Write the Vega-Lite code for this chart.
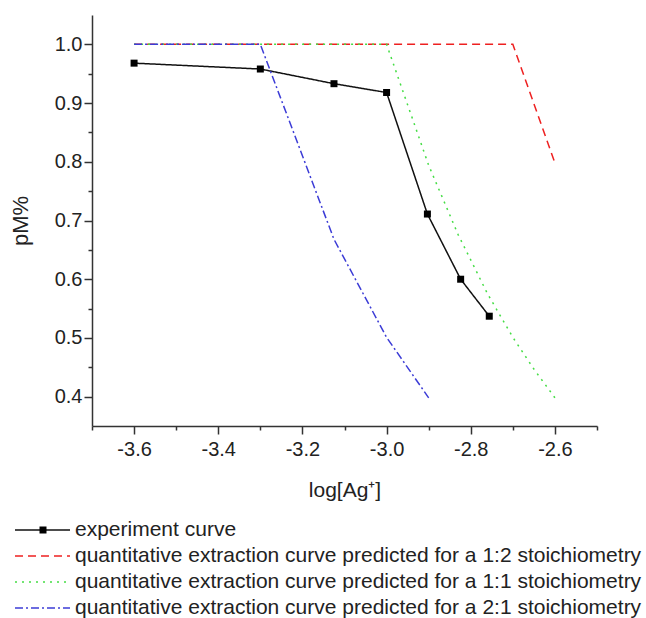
{
  "$schema": "https://vega.github.io/schema/vega-lite/v6.json",
  "autosize": "none",
  "width": 505,
  "height": 411,
  "padding": {"left": 92, "top": 15, "right": 49, "bottom": 192},
  "background": "white",
  "config": {
    "view": {"stroke": null},
    "font": "Liberation Sans",
    "axis": {"grid": false, "domainColor": "#333", "domainWidth": 1.5, "tickColor": "#333", "tickWidth": 1.5, "labelFont": "Liberation Sans", "labelFontSize": 20, "labelColor": "#222", "labelOverlap": false, "labelFlush": false, "titleFont": "Liberation Sans", "titleFontSize": 21, "titleFontWeight": "normal", "titleColor": "#222"}
  },
  "data": {"values": [
    {"series": "experiment curve", "x": -3.6, "y": 0.968},
    {"series": "experiment curve", "x": -3.3, "y": 0.958},
    {"series": "experiment curve", "x": -3.125, "y": 0.933},
    {"series": "experiment curve", "x": -3.0, "y": 0.918},
    {"series": "experiment curve", "x": -2.903, "y": 0.711},
    {"series": "experiment curve", "x": -2.824, "y": 0.600},
    {"series": "experiment curve", "x": -2.756, "y": 0.537},
    {"series": "quantitative extraction curve predicted for a 1:2 stoichiometry", "x": -3.6, "y": 1.0},
    {"series": "quantitative extraction curve predicted for a 1:2 stoichiometry", "x": -2.7, "y": 1.0},
    {"series": "quantitative extraction curve predicted for a 1:2 stoichiometry", "x": -2.6, "y": 0.798},
    {"series": "quantitative extraction curve predicted for a 1:1 stoichiometry", "x": -3.6, "y": 1.0},
    {"series": "quantitative extraction curve predicted for a 1:1 stoichiometry", "x": -3.0, "y": 1.0},
    {"series": "quantitative extraction curve predicted for a 1:1 stoichiometry", "x": -2.9, "y": 0.794},
    {"series": "quantitative extraction curve predicted for a 1:1 stoichiometry", "x": -2.83, "y": 0.676},
    {"series": "quantitative extraction curve predicted for a 1:1 stoichiometry", "x": -2.76, "y": 0.575},
    {"series": "quantitative extraction curve predicted for a 1:1 stoichiometry", "x": -2.7, "y": 0.501},
    {"series": "quantitative extraction curve predicted for a 1:1 stoichiometry", "x": -2.65, "y": 0.447},
    {"series": "quantitative extraction curve predicted for a 1:1 stoichiometry", "x": -2.6, "y": 0.398},
    {"series": "quantitative extraction curve predicted for a 2:1 stoichiometry", "x": -3.6, "y": 1.0},
    {"series": "quantitative extraction curve predicted for a 2:1 stoichiometry", "x": -3.3, "y": 1.0},
    {"series": "quantitative extraction curve predicted for a 2:1 stoichiometry", "x": -3.125, "y": 0.668},
    {"series": "quantitative extraction curve predicted for a 2:1 stoichiometry", "x": -3.0, "y": 0.501},
    {"series": "quantitative extraction curve predicted for a 2:1 stoichiometry", "x": -2.9, "y": 0.398}
  ]},
  "resolve": {"axis": {"x": "independent", "y": "independent"}},
  "layer": [
    {
      "mark": {"type": "line", "strokeWidth": 1.5},
      "encoding": {
        "x": {"field": "x", "type": "quantitative", "scale": {"domain": [-3.7, -2.5], "nice": false, "zero": false},
          "axis": {"orient": "bottom", "values": [-3.6, -3.4, -3.2, -3.0, -2.8, -2.6],
            "labelExpr": "replace(format(datum.value, '.1f'), '−', '-')",
            "tickSize": 8, "labelPadding": 5, "title": "log[Ag⁺]", "titlePadding": 20}},
        "y": {"field": "y", "type": "quantitative", "scale": {"domain": [0.35, 1.05], "nice": false, "zero": false},
          "axis": {"orient": "left", "values": [0.4, 0.5, 0.6, 0.7, 0.8, 0.9, 1.0], "format": ".1f",
            "tickSize": 8, "labelPadding": 2, "title": "pM%", "titleFontSize": 22, "titlePadding": 22}},
        "color": {"field": "series", "type": "nominal",
          "scale": {"domain": ["experiment curve", "quantitative extraction curve predicted for a 1:2 stoichiometry", "quantitative extraction curve predicted for a 1:1 stoichiometry", "quantitative extraction curve predicted for a 2:1 stoichiometry"],
            "range": ["#111111", "#ee2020", "#44dd44", "#3c3cd6"]},
          "legend": {"title": null, "orient": "none", "legendX": -61.5, "legendY": 503, "direction": "vertical", "columns": 1, "symbolType": "M-2.5,0H2.5", "symbolSize": 484, "symbolStrokeWidth": 1.5, "labelFont": "Liberation Sans", "labelFontSize": 21, "labelColor": "#222", "labelLimit": 800, "rowPadding": 4, "labelOffset": 20.5}},
        "strokeDash": {"field": "series", "type": "nominal",
          "scale": {"domain": ["experiment curve", "quantitative extraction curve predicted for a 1:2 stoichiometry", "quantitative extraction curve predicted for a 1:1 stoichiometry", "quantitative extraction curve predicted for a 2:1 stoichiometry"],
            "range": [[1, 0], [8, 5], [2, 5], [8, 3, 2, 3]]},
          "legend": {"title": null, "orient": "none", "legendX": -61.5, "legendY": 503, "direction": "vertical", "columns": 1, "symbolType": "M-2.5,0H2.5", "symbolSize": 484, "symbolStrokeWidth": 1.5, "labelFont": "Liberation Sans", "labelFontSize": 21, "labelColor": "#222", "labelLimit": 800, "rowPadding": 4, "labelOffset": 20.5}}
      }
    },
    {
      "transform": [{"filter": "datum.series === 'experiment curve'"}],
      "mark": {"type": "point", "shape": "square", "filled": true, "size": 49, "color": "#000", "opacity": 1},
      "encoding": {
        "x": {"field": "x", "type": "quantitative",
          "axis": {"orient": "bottom", "values": [-3.7, -3.5, -3.3, -3.1, -2.9, -2.7, -2.5], "labels": false, "domain": false, "tickSize": 4, "title": null}},
        "y": {"field": "y", "type": "quantitative",
          "axis": {"orient": "left", "values": [0.45, 0.55, 0.65, 0.75, 0.85, 0.95], "labels": false, "domain": false, "tickSize": 4, "title": null}},
        "shape": {"field": "series", "type": "nominal",
          "scale": {"domain": ["experiment curve"], "range": ["square"]},
          "legend": {"title": null, "orient": "none", "legendX": -57.5, "legendY": 506.5, "symbolSize": 49, "symbolFillColor": "#000", "symbolStrokeColor": "#000", "symbolOpacity": 1, "labelExpr": "''", "labelFontSize": 17}}
      }
    }
  ]
}
